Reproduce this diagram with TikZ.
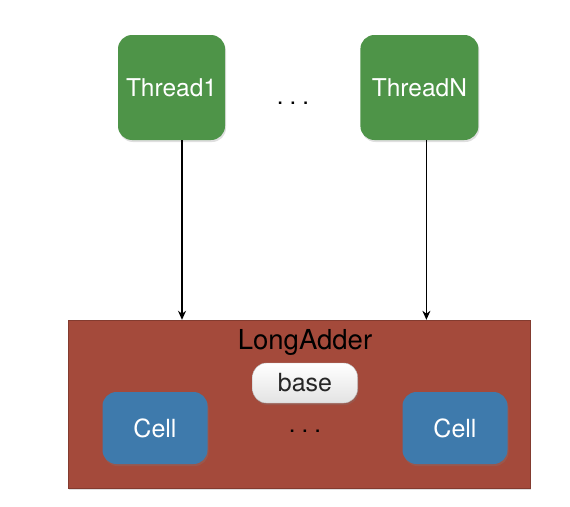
\documentclass[tikz,border=0pt]{standalone}
\usepackage{fontspec}
\setmainfont{TeX Gyre Heros}
\usepackage{tikz}
\usetikzlibrary{arrows, arrows.meta, calc, positioning, shadows}
\definecolor{threadgreen}{RGB}{78,148,72}
\definecolor{adderred}{RGB}{164,74,59}
\definecolor{cellblue}{RGB}{62,122,172}
\tikzstyle{softshadow} = [drop shadow={opacity=0.25, shadow xshift=1pt, shadow yshift=-2pt}]
\tikzstyle{thread} = [rectangle, rounded corners=14pt, fill=threadgreen, text=white, minimum height=105pt, softshadow, font=\fontsize{24.5}{28}\selectfont]
\tikzstyle{cell} = [rectangle, rounded corners=14pt, fill=cellblue, text=white, minimum width=105pt, minimum height=72pt, softshadow, font=\fontsize{25}{28}\selectfont]
\tikzstyle{adder} = [rectangle, fill=adderred, draw=adderred!80!black, thin, minimum width=462pt, minimum height=168pt, softshadow]
\tikzstyle{basebox} = [rectangle, rounded corners=14pt, top color=white, bottom color=gray!22, draw=gray!55, minimum width=105pt, minimum height=40pt, softshadow, text=black!85, font=\fontsize{25}{28}\selectfont]
\tikzstyle{dots} = [font=\fontsize{24}{28}\selectfont, anchor=base]
\tikzstyle{arrow} = [line width=1.4pt, -{Stealth[length=9pt, width=8pt]}]

\begin{document}
\begin{tikzpicture}[x=1pt, y=-1pt, node distance = 10pt]
		\useasboundingbox (0,0) rectangle (570,506);
		\node (Thread1) [thread, minimum width=107pt] at (171.5,87.5) {Thread1};
		\node (ThreadN) [thread, minimum width=118pt, right = 135pt of Thread1] {ThreadN};
		\node (ThreadDots) [dots] at (293,104) {.\hspace{6pt}.\hspace{6pt}.};
		\node (LongAdder) [adder] at (299,404) {};
		\node (AdderTitle) [font=\fontsize{27.5}{30}\selectfont] at (305,342) {LongAdder};
		\node (Base) [basebox] at (305,383) {base};
		\node (Cell1) [cell] at (155,428) {Cell};
		\node (CellN) [cell] at (455,428) {Cell};
		\node (CellDots) [dots] at (305,432) {.\hspace{6pt}.\hspace{6pt}.};
		\draw [arrow] ([xshift=10.5pt]Thread1.south) -- ([xshift=10.5pt]Thread1.south |- LongAdder.north);
		\draw [arrow] ([xshift=7pt]ThreadN.south) -- ([xshift=7pt]ThreadN.south |- LongAdder.north);
\end{tikzpicture}
\end{document}
